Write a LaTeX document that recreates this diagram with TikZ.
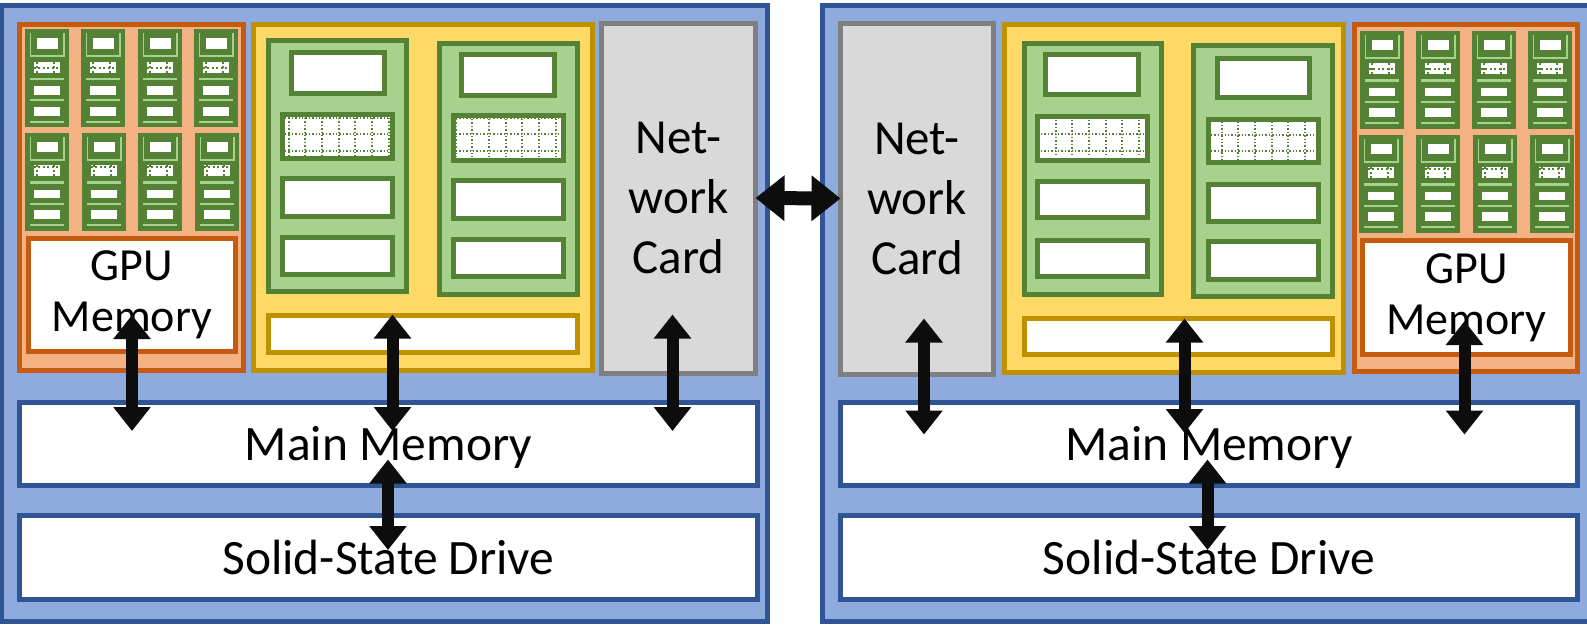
\documentclass[tikz,border=0pt]{standalone}
\usepackage{fontspec}
\setmainfont{Carlito}
\usepackage{xcolor}
\usetikzlibrary{arrows.meta}
\definecolor{srvfill}{HTML}{8FAADC}
\definecolor{srvline}{HTML}{2F5597}
\definecolor{gpufill}{HTML}{F4B183}
\definecolor{gpuline}{HTML}{C55A11}
\definecolor{cpufill}{HTML}{FFD966}
\definecolor{cpuline}{HTML}{BF9000}
\definecolor{modfill}{HTML}{A9D18E}
\definecolor{modline}{HTML}{548235}
\definecolor{netfill}{HTML}{D9D9D9}
\definecolor{netline}{HTML}{7F7F7F}
\definecolor{arrowblack}{HTML}{0D0D0D}
\tikzset{
bigarrow/.style={line width=#1, draw=arrowblack},
chip/.pic={
    \node[chipbody] (body) at (22,49) {};
    \draw[chipline, line width=1.6pt] (5.3,4) -- (5.3,27) -- (38.7,27) -- (38.7,4);
    \node[chiphole, minimum width=21, minimum height=10.5] (top) at (22.5,14.4) {};
    \node[chiphole, minimum height=11] (grid) at (22,38.2) {};
    \draw[chipdot] (9,#1) -- (35,#1);
    \foreach \gx in {12.3,29.3} {
        \draw[chipdot] (\gx,32.7) -- (\gx,43.7);
    }
    \draw[chipline, line width=2.6pt] (5,50) -- (39,50);
    \node[chiphole, minimum height=8.7] (midd) at (22,61.3) {};
    \draw[chipline, line width=2pt] (5,71.3) -- (39,71.3);
    \node[chiphole, minimum height=9] (low) at (22,82.2) {};
    \draw[chipline, line width=2pt] (5,92.7) -- (39,92.7);
}}

\begin{document}
\begin{tikzpicture}[x=1pt, y=-1pt]
		\tikzset{block/.style = {shape=rectangle, line width=5pt, inner sep=0pt, outer sep=0pt, align=center}}
		\tikzset{server/.style = {block, draw=srvline, fill=srvfill}}
		\tikzset{store/.style = {block, draw=srvline, fill=white, font=\fontsize{49.5}{60}\selectfont, text height=33pt, text depth=0pt}}
		\tikzset{gpu/.style = {block, draw=gpuline, fill=gpufill}}
		\tikzset{gpumem/.style = {block, draw=gpuline, fill=white, font=\fontsize{46}{51}\selectfont, text depth=6.5pt}}
		\tikzset{cpu/.style = {block, draw=cpuline, fill=cpufill}}
		\tikzset{bus/.style = {block, draw=cpuline, fill=white}}
		\tikzset{net/.style = {block, draw=netline, fill=netfill, font=\fontsize{49}{60}\selectfont}}
		\tikzset{module/.style = {block, draw=modline, fill=modfill, minimum height=251}}
		\tikzset{unit/.style = {block, draw=modline, fill=white, minimum width=110}}
		\tikzset{griddot/.style = {draw=modline, line width=1.4pt, dash pattern=on 1.4pt off 2pt}}
		\tikzset{chipdot/.style = {draw=modline, line width=2pt, dash pattern=on 2pt off 2.4pt}}
		\tikzset{chipbody/.style = {shape=rectangle, fill=modline, inner sep=0pt, outer sep=0pt, minimum width=44, minimum height=98}}
		\tikzset{chiphole/.style = {shape=rectangle, fill=white, inner sep=0pt, outer sep=0pt, minimum width=26}}
		\tikzset{chipline/.style = {draw=modfill}}
		\tikzset{updown/.style = {bigarrow=12pt, {Triangle[width=36pt,length=24pt]}-{Triangle[width=36pt,length=24pt]}}}
		\tikzset{leftright/.style = {bigarrow=14pt, {Triangle[width=44pt,length=29pt]}-{Triangle[width=44pt,length=29pt]}}}

		\useasboundingbox (0,0) rectangle (1587,625);

		\node[server, minimum width=766, minimum height=616] (srvL) at (384,313) {};
		\node[server, minimum width=768, minimum height=616] (srvR) at (1206,313) {};

		\node[gpu, minimum width=224, minimum height=346.5] (gpuL) at (131.5,197.25) {};
		\node[gpumem, minimum width=207, minimum height=113.5] (gmemL) at (132,294.75) {GPU\\Memory};
		\node[cpu, minimum width=339, minimum height=346] (cpuL) at (423,197.5) {};
		\node[net, minimum width=154, minimum height=350] (netL) at (678.5,198) {Net-\\work\\Card};
		\node[store, minimum width=738, minimum height=83] (mainL) at (388.5,444) {Main Memory};
		\node[store, minimum width=738, minimum height=84] (ssdL) at (388.5,557.5) {Solid-State Drive};

		\node[module, minimum width=138] (modLa) at (337.5,165.65) {};
		\node[unit, minimum width=93, minimum height=40.4] (unitLa) at (338,73) {};
		\node[unit, minimum height=44] (gridLa) at (337.5,136) {};
		\node[unit, minimum height=37.2] (unitLb) at (337.5,197.4) {};
		\node[unit, minimum height=36.7] (unitLc) at (337.5,255.85) {};
		\node[module, minimum width=138] (modLb) at (508.5,168.5) {};
		\node[unit, minimum width=93, minimum height=40.4] (unitLd) at (508,75) {};
		\node[unit, minimum height=44.2] (gridLb) at (508.5,137.9) {};
		\node[unit, minimum height=37.4] (unitLe) at (508.5,199.5) {};
		\node[unit, minimum height=36.8] (unitLf) at (508.5,257.6) {};
		\node[bus, minimum width=309, minimum height=37] (busL) at (423,333.5) {};

		\node[gpu, minimum width=223, minimum height=347] (gpuR) at (1466,197.5) {};
		\node[gpumem, minimum width=208, minimum height=114] (gmemR) at (1466.5,297) {GPU\\Memory};
		\node[cpu, minimum width=339, minimum height=348] (cpuR) at (1174,198) {};
		\node[net, minimum width=153, minimum height=351] (netR) at (917,198.5) {Net-\\work\\Card};
		\node[store, minimum width=737, minimum height=83] (mainR) at (1209,444) {Main Memory};
		\node[store, minimum width=737, minimum height=84] (ssdR) at (1209,557.5) {Solid-State Drive};

		\node[module, minimum width=137.5] (modRa) at (1092.75,168.5) {};
		\node[unit, minimum width=93, minimum height=40] (unitRa) at (1092,74.8) {};
		\node[unit, minimum height=44] (gridRa) at (1092.5,138) {};
		\node[unit, minimum height=36.5] (unitRb) at (1092.5,199.25) {};
		\node[unit, minimum height=36] (unitRc) at (1092.5,258) {};
		\node[module, minimum width=139] (modRb) at (1263,170.5) {};
		\node[unit, minimum width=92.5, minimum height=39] (unitRd) at (1263.25,77.5) {};
		\node[unit, minimum height=43] (gridRb) at (1263.25,140.5) {};
		\node[unit, minimum height=37] (unitRe) at (1263.25,202.5) {};
		\node[unit, minimum height=37.2] (unitRf) at (1263.25,260.4) {};
		\node[bus, minimum width=308.5, minimum height=36] (busR) at (1178.25,336) {};

		\foreach \gx in {289,305,322,339,355,372,389} {
			\draw[griddot] (\gx,118) -- (\gx,155.5);
		}
		\foreach \gy in {118,134,151} {
			\draw[griddot] (285,\gy) -- (390,\gy);
		}
		\foreach \gx in {456,472,489,506,522,539,556} {
			\draw[griddot] (\gx,119) -- (\gx,157);
		}
		\foreach \gy in {118.7,134,151} {
			\draw[griddot] (456,\gy) -- (561,\gy);
		}
		\foreach \gx in {1056,1072,1089,1106,1122,1139} {
			\draw[griddot] (\gx,120) -- (\gx,157);
		}
		\foreach \gy in {118.5,134,151} {
			\draw[griddot] (1041,\gy) -- (1145,\gy);
		}
		\foreach \gx in {1222,1238,1255,1272,1288,1305} {
			\draw[griddot] (\gx,121.5) -- (\gx,159);
		}
		\foreach \gy in {135,151} {
			\draw[griddot] (1211,\gy) -- (1316,\gy);
		}

		\foreach \cx/\cy/\dy in {25/29/38.7, 81/29/38.7, 138/29/38.7, 194/29/38.7, 25/132.7/34.7, 82/132.7/34.7, 138/132.7/34.7, 195/132.7/34.7, 1360/30.7/38.7, 1416/30.7/38.7, 1472/30.7/38.7, 1528/30.7/38.7, 1359/134.7/34.7, 1416/134.7/34.7, 1473/134.7/34.7, 1530/134.7/34.7} {
			\pic (chip\cx-\cy) at (\cx,\cy) {chip=\dy};
		}

		\coordinate (gpuLup) at (132,315);
		\coordinate (gpuLdown) at (132,431);
		\coordinate (cpuLup) at (392.5,314.5);
		\coordinate (cpuLdown) at (392.5,431);
		\coordinate (netLup) at (672.5,314.5);
		\coordinate (netLdown) at (672.5,431);
		\coordinate (mainLup) at (388,459.5);
		\coordinate (ssdLdown) at (388,550);
		\coordinate (gpuRup) at (1464.5,321);
		\coordinate (gpuRdown) at (1464.5,434.5);
		\coordinate (cpuRup) at (1184.5,318.5);
		\coordinate (cpuRdown) at (1184.5,433);
		\coordinate (netRup) at (924,318.5);
		\coordinate (netRdown) at (924,434.5);
		\coordinate (mainRup) at (1207.5,459.5);
		\coordinate (ssdRdown) at (1207.5,550);

		\draw[updown] (gpuLup) to (gpuLdown);
		\draw[updown] (cpuLup) to (cpuLdown);
		\draw[updown] (netLup) to (netLdown);
		\draw[updown] (mainLup) to (ssdLdown);
		\draw[updown] (gpuRup) to (gpuRdown);
		\draw[updown] (cpuRup) to (cpuRdown);
		\draw[updown] (netRup) to (netRdown);
		\draw[updown] (mainRup) to (ssdRdown);
		\draw[leftright] (netL.east) to (netR.west);
	\end{tikzpicture}
\end{document}
